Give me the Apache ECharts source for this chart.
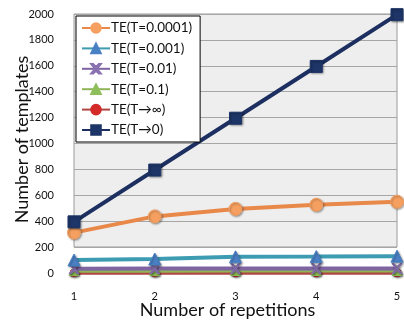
<!DOCTYPE html>
<html>
<head>
<meta charset="utf-8">
<script src="https://cdn.jsdelivr.net/npm/echarts@6/dist/echarts.min.js"></script>
<style>
  html, body { margin: 0; padding: 0; background: #fff; }
  #chart { width: 404px; height: 325px; }
</style>
</head>
<body>
<div id="chart"></div>
<script>
  // data
  var repetitions = ['1', '2', '3', '4', '5'];
  var yTicks = [0, 200, 400, 600, 800, 1000, 1200, 1400, 1600, 1800, 2000];
  var t0001 = [312, 437, 495, 527, 550];
  var t001 = [100, 108, 125, 127, 130];
  var t01 = [33, 34, 34, 34, 34];
  var t1 = [18, 18, 19, 19, 19];
  var tInf = [1, 1, 1, 1, 1];
  var tZero = [395, 795, 1195, 1595, 1995];

  var seriesNames = ['TE(T=0.0001)', 'TE(T=0.001)', 'TE(T=0.01)', 'TE(T=0.1)', 'TE(T\u2192\u221e)', 'TE(T\u21920)'];

  var myChart = echarts.init(document.getElementById('chart'));
  var font = 'Lato, "Open Sans", sans-serif';

  function line(name, data, lineColor, symbol, size, markColor, z) {
    return {
      name: name,
      type: 'line',
      data: data,
      xAxisIndex: 0,
      yAxisIndex: 0,
      symbol: symbol,
      symbolSize: size,
      showSymbol: true,
      clip: false,
      z: z,
      lineStyle: { color: lineColor, width: 4 },
      itemStyle: {
        color: markColor,
        borderColor: markColor,
        borderWidth: 1,
        shadowColor: 'rgba(0,0,0,0.35)',
        shadowBlur: 2,
        shadowOffsetX: 1,
        shadowOffsetY: 1
      }
    };
  }

  var option = {
    animation: false,
    backgroundColor: '#fff',
    textStyle: { fontFamily: font },
    grid: [
      { left: 74, right: 7, top: 14, bottom: 52, outerBoundsMode: 'none', containLabel: false },
      { left: 74, right: 7, top: 14, bottom: 78, outerBoundsMode: 'none', containLabel: false,
        show: true, backgroundColor: '#eeeeee', borderColor: '#9a9a9a', borderWidth: 1 }
    ],
    legend: {
      orient: 'vertical',
      left: 76,
      top: 16,
      data: seriesNames,
      itemWidth: 28,
      itemHeight: 12,
      itemGap: 6.4,
      padding: [5, 8, 5, 5],
      backgroundColor: '#fff',
      borderColor: '#000',
      borderWidth: 1,
      z: 20,
      textStyle: { fontFamily: font, fontSize: 13.5, color: '#111', padding: [0, 0, 0, -4] }
    },
    xAxis: [
      {
        gridIndex: 0,
        type: 'category',
        data: repetitions,
        boundaryGap: false,
        axisLine: { show: false },
        axisTick: { show: false },
        axisLabel: { margin: 18, fontSize: 11, color: '#111', fontFamily: font },
        name: 'Number of repetitions',
        nameLocation: 'middle',
        nameGap: 28,
        nameMoveOverlap: false,
        nameTextStyle: { fontSize: 18, color: '#111', fontFamily: font, padding: [0, 16, 0, 0] }
      },
      {
        gridIndex: 1,
        type: 'category',
        data: repetitions,
        boundaryGap: false,
        show: false
      }
    ],
    yAxis: [
      {
        gridIndex: 0,
        type: 'value',
        min: yTicks[0],
        max: yTicks[yTicks.length - 1],
        interval: 200,
        axisLine: { show: false },
        axisTick: { show: false },
        splitLine: { show: false },
        axisLabel: { margin: 20, fontSize: 11, color: '#111', fontFamily: font,
          formatter: function (v) { return String(v); } },
        name: 'Number of templates',
        nameLocation: 'middle',
        nameGap: 43,
        nameMoveOverlap: false,
        nameTextStyle: { fontSize: 18, color: '#111', fontFamily: font, padding: [0, 0, 0, 8] }
      },
      {
        gridIndex: 1,
        type: 'value',
        min: 200,
        max: 2000,
        interval: 200,
        axisLine: { show: false },
        axisTick: { show: false },
        axisLabel: { show: false },
        splitLine: { show: true, lineStyle: { color: '#a6a6a6', width: 1 } }
      }
    ],
    series: [
      line(seriesNames[4], tInf, '#b04643', 'circle', 8, '#d42a2a', 4),
      line(seriesNames[3], t1, '#8fb458', 'triangle', 10, '#8fbf5a', 5),
      line(seriesNames[2], t01, '#7e64a0', 'path://M0,0L2,0L5,3L8,0L10,0L6,5L10,10L8,10L5,7L2,10L0,10L4,5Z', 10, '#8a72b0', 6),
      line(seriesNames[1], t001, '#3d9bb2', 'triangle', 12, '#4a80c4', 7),
      line(seriesNames[0], t0001, '#e8894a', 'circle', 13, '#f5a060', 8),
      line(seriesNames[5], tZero, '#1c2f60', 'rect', 12, '#1d3567', 9)
    ]
  };

  myChart.setOption(option);
</script>
</body>
</html>
